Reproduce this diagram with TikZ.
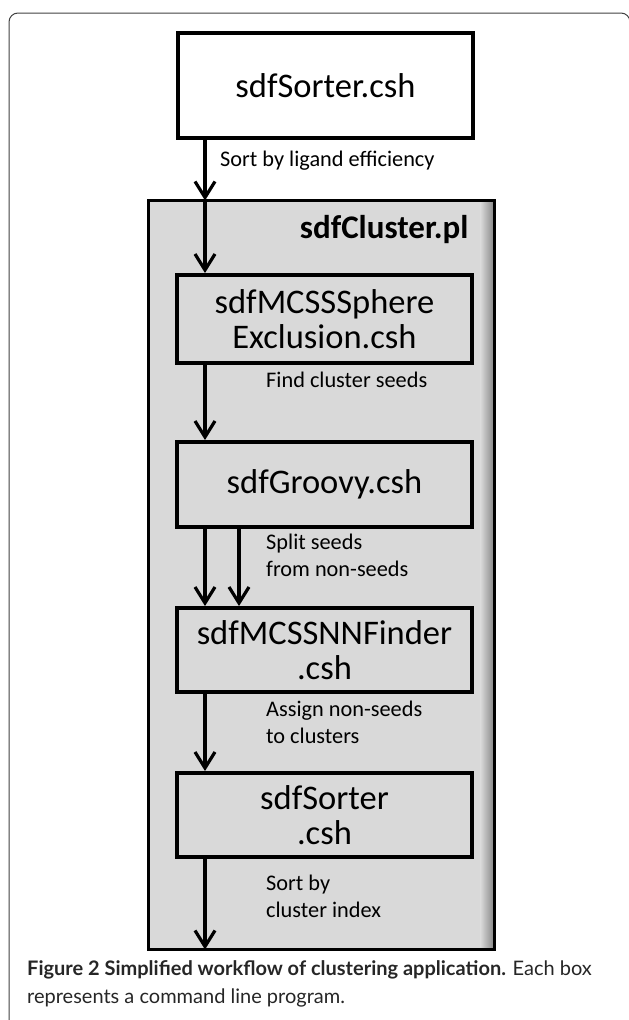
\documentclass[tikz,border=0pt]{standalone}
\usepackage{fontspec}
\setmainfont{Carlito}
\newfontfamily\capfont{Lato}
\usetikzlibrary{arrows.meta}
\definecolor{panelgray}{HTML}{D9D9D9}
\definecolor{shadowgray}{HTML}{8C8C8C}

\begin{document}
\begin{tikzpicture}[x=1pt, y=-1pt,
    prog/.style = {shape=rectangle, draw, line width=4pt, fill=panelgray,
      minimum width=295pt, align=center, inner sep=0pt,
      font=\fontsize{34.5}{35}\selectfont},
    note/.style = {anchor=west, align=left, inner sep=0pt,
      font=\fontsize{22.3}{27}\selectfont},
    flow/.style = {line width=3.2pt, -{Straight Barb[length=16pt,width=20pt]}}]
  \useasboundingbox (0,0) rectangle (629,1020);
  % frame of the figure
  \begin{scope}
    \clip (0,0) rectangle (629,1020);
    \draw[line width=1pt, rounded corners=9pt, black!75]
      (9,1030) -- (9,13) -- (630,13) -- (630,1030);
  \end{scope}

  % the perl wrapper
  \node[fill=panelgray, minimum width=343pt, minimum height=746pt,
    inner sep=0pt, outer sep=1.5pt] (cluster) at (321.5,575) {};
  \shade[left color=panelgray, right color=shadowgray]
    ([xshift=-14pt,yshift=-2pt]cluster.north east) rectangle
    ([xshift=-1.5pt,yshift=2pt]cluster.south east);
  \draw[line width=3.2pt] (cluster.north west) rectangle (cluster.south east);
  \node[anchor=east, font=\bfseries\fontsize{33}{36}\selectfont]
    (title) at (472,230) {sdfCluster.pl};

  % programs
  \node[prog, fill=white, minimum height=105pt]
    (sorter) at (325.5,85.5) {sdfSorter.csh};
  \node[prog, minimum height=88pt] (sphere) at (324.5,319)
    {sdfMCSSSphere\\Exclusion.csh};
  \node[prog, minimum height=85pt] (groovy) at (324.5,484.5) {sdfGroovy.csh};
  \node[prog, minimum height=84pt] (nnfinder) at (324.5,650)
    {sdfMCSSNNFinder\\.csh};
  \node[prog, minimum height=84pt] (resort) at (324.5,815)
    {sdfSorter\\.csh};

  \coordinate (ax) at (205,0);
  \coordinate (bx) at (239,0);

  \draw[flow] (sorter.south -| ax) -- (cluster.north -| ax);
  \draw[flow] (cluster.north -| ax) -- (sphere.north -| ax);
  \draw[flow] (sphere.south -| ax) -- (groovy.north -| ax);
  \draw[flow] (groovy.south -| ax) -- (nnfinder.north -| ax);
  \draw[flow] (groovy.south -| bx) -- (nnfinder.north -| bx);
  \draw[flow] (nnfinder.south -| ax) -- (resort.north -| ax);
  \draw[flow] (resort.south -| ax) -- (cluster.south -| ax);

  % labels
  \node[note] (sortlig) at (220,161) {Sort by ligand efficiency};
  \node[note] (seeds) at (266,380) {Find cluster seeds};
  \node[note] (split) at (266,555) {Split seeds\\from non-seeds};
  \node[note] (assign) at (266,722) {Assign non-seeds\\to clusters};
  \node[note] (index) at (266,896) {Sort by\\cluster index};

  \node[anchor=north west, align=left, inner sep=0pt, text=black!85,
    font=\capfont\fontsize{20}{28}\selectfont] (caption) at (27,960)
    {\textbf{Figure 2 Simplified workflow of clustering application.} Each box\\
     represents a command line program.};
\end{tikzpicture}
\end{document}
